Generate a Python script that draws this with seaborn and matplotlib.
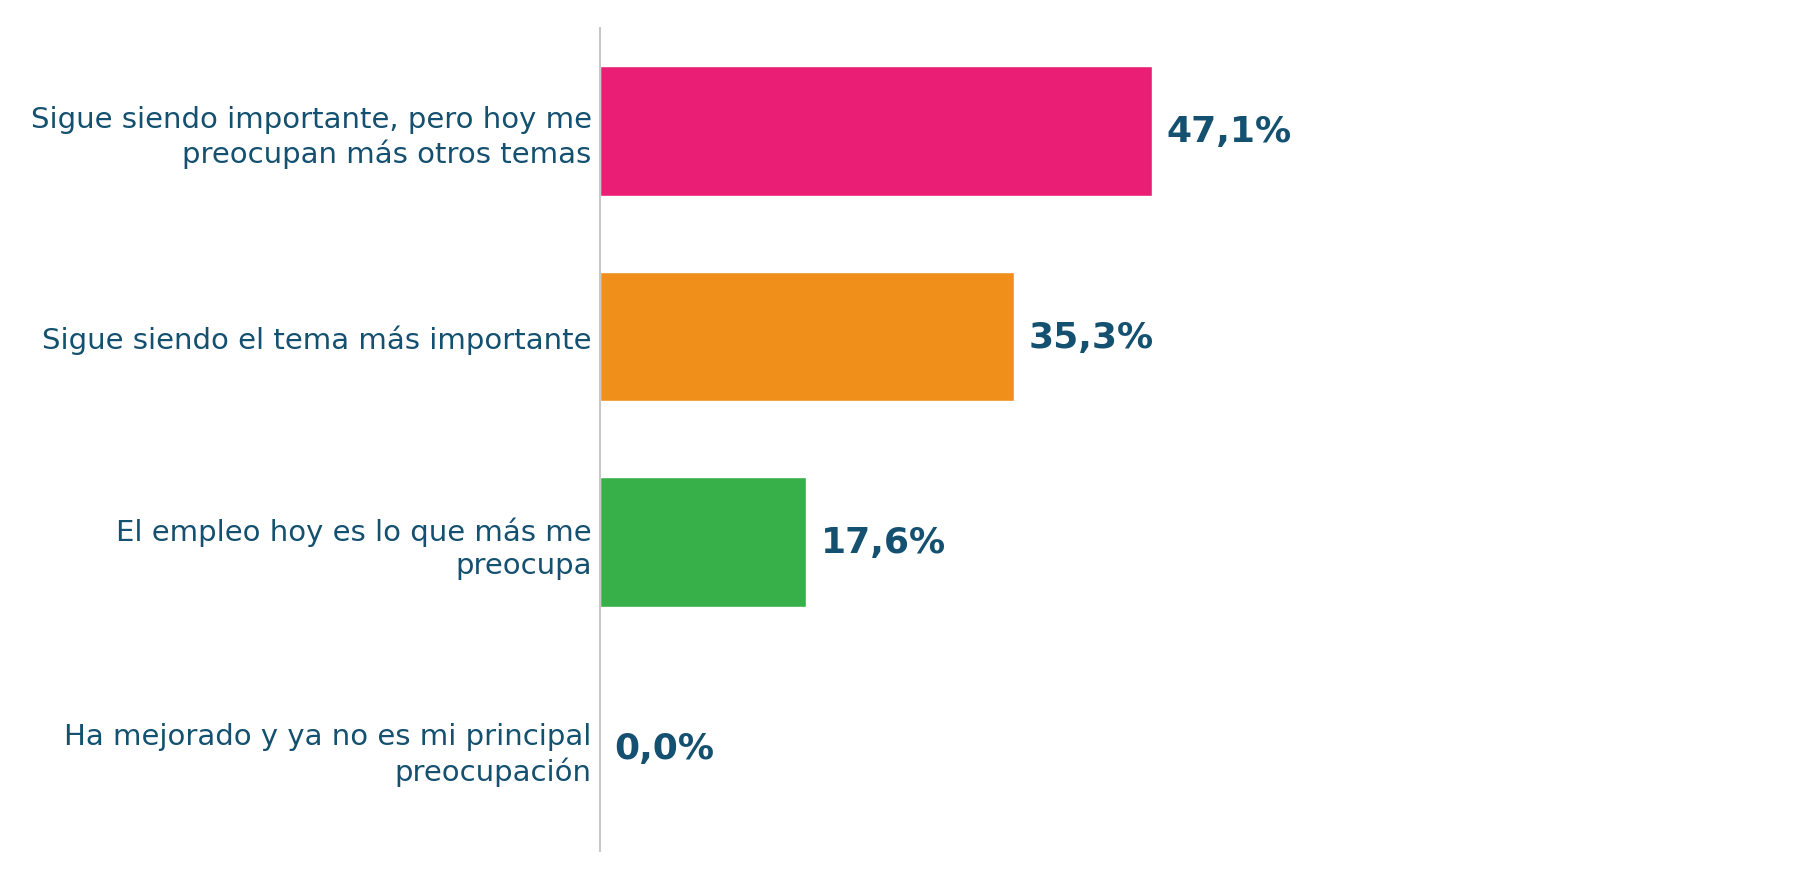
import matplotlib
matplotlib.use("Agg")
import matplotlib.pyplot as plt
import seaborn as sns
import pandas as pd

categories = [
    "Sigue siendo importante, pero hoy me\npreocupan más otros temas",
    "Sigue siendo el tema más importante",
    "El empleo hoy es lo que más me\npreocupa",
    "Ha mejorado y ya no es mi principal\npreocupación",
]
values = [47.1, 35.3, 17.6, 0.0]
value_labels = ["47,1%", "35,3%", "17,6%", "0,0%"]
colors = ["#E91E74", "#F18F1B", "#38B04A", "#1F77B4"]

sns.set_theme(style="white")
plt.rcParams['font.family'] = ['DejaVu Sans']

text_color = "#14506F"

df = pd.DataFrame({"cat": categories, "val": values})

fig = plt.figure(figsize=(18, 8.79), dpi=100)
ax = fig.add_axes([0.3333, 0.031, 0.6333, 0.936])
sns.barplot(data=df, x="val", y="cat", hue="cat", palette=colors, legend=False,
            width=0.63, saturation=1, ax=ax)

ax.set_xlim(0, 97.3)
ax.set_ylim(3.5, -0.5)
ax.set_xlabel("")
ax.set_ylabel("")
ax.set_xticks([])
for s in ["top", "right", "bottom"]:
    ax.spines[s].set_visible(False)
ax.spines["left"].set_color("#C8C8C8")
ax.spines["left"].set_linewidth(1.5)
ax.tick_params(axis="y", length=0, pad=6, labelsize=21, labelcolor=text_color)
for lbl in ax.get_yticklabels():
    lbl.set_horizontalalignment("right")
    lbl.set_linespacing(1.25)

for i, (v, t) in enumerate(zip(values, value_labels)):
    ax.text(v + 1.25, i, t, va="center", ha="left", fontsize=26,
            fontweight="bold", color=text_color)

fig.savefig("out.png", dpi=100)
